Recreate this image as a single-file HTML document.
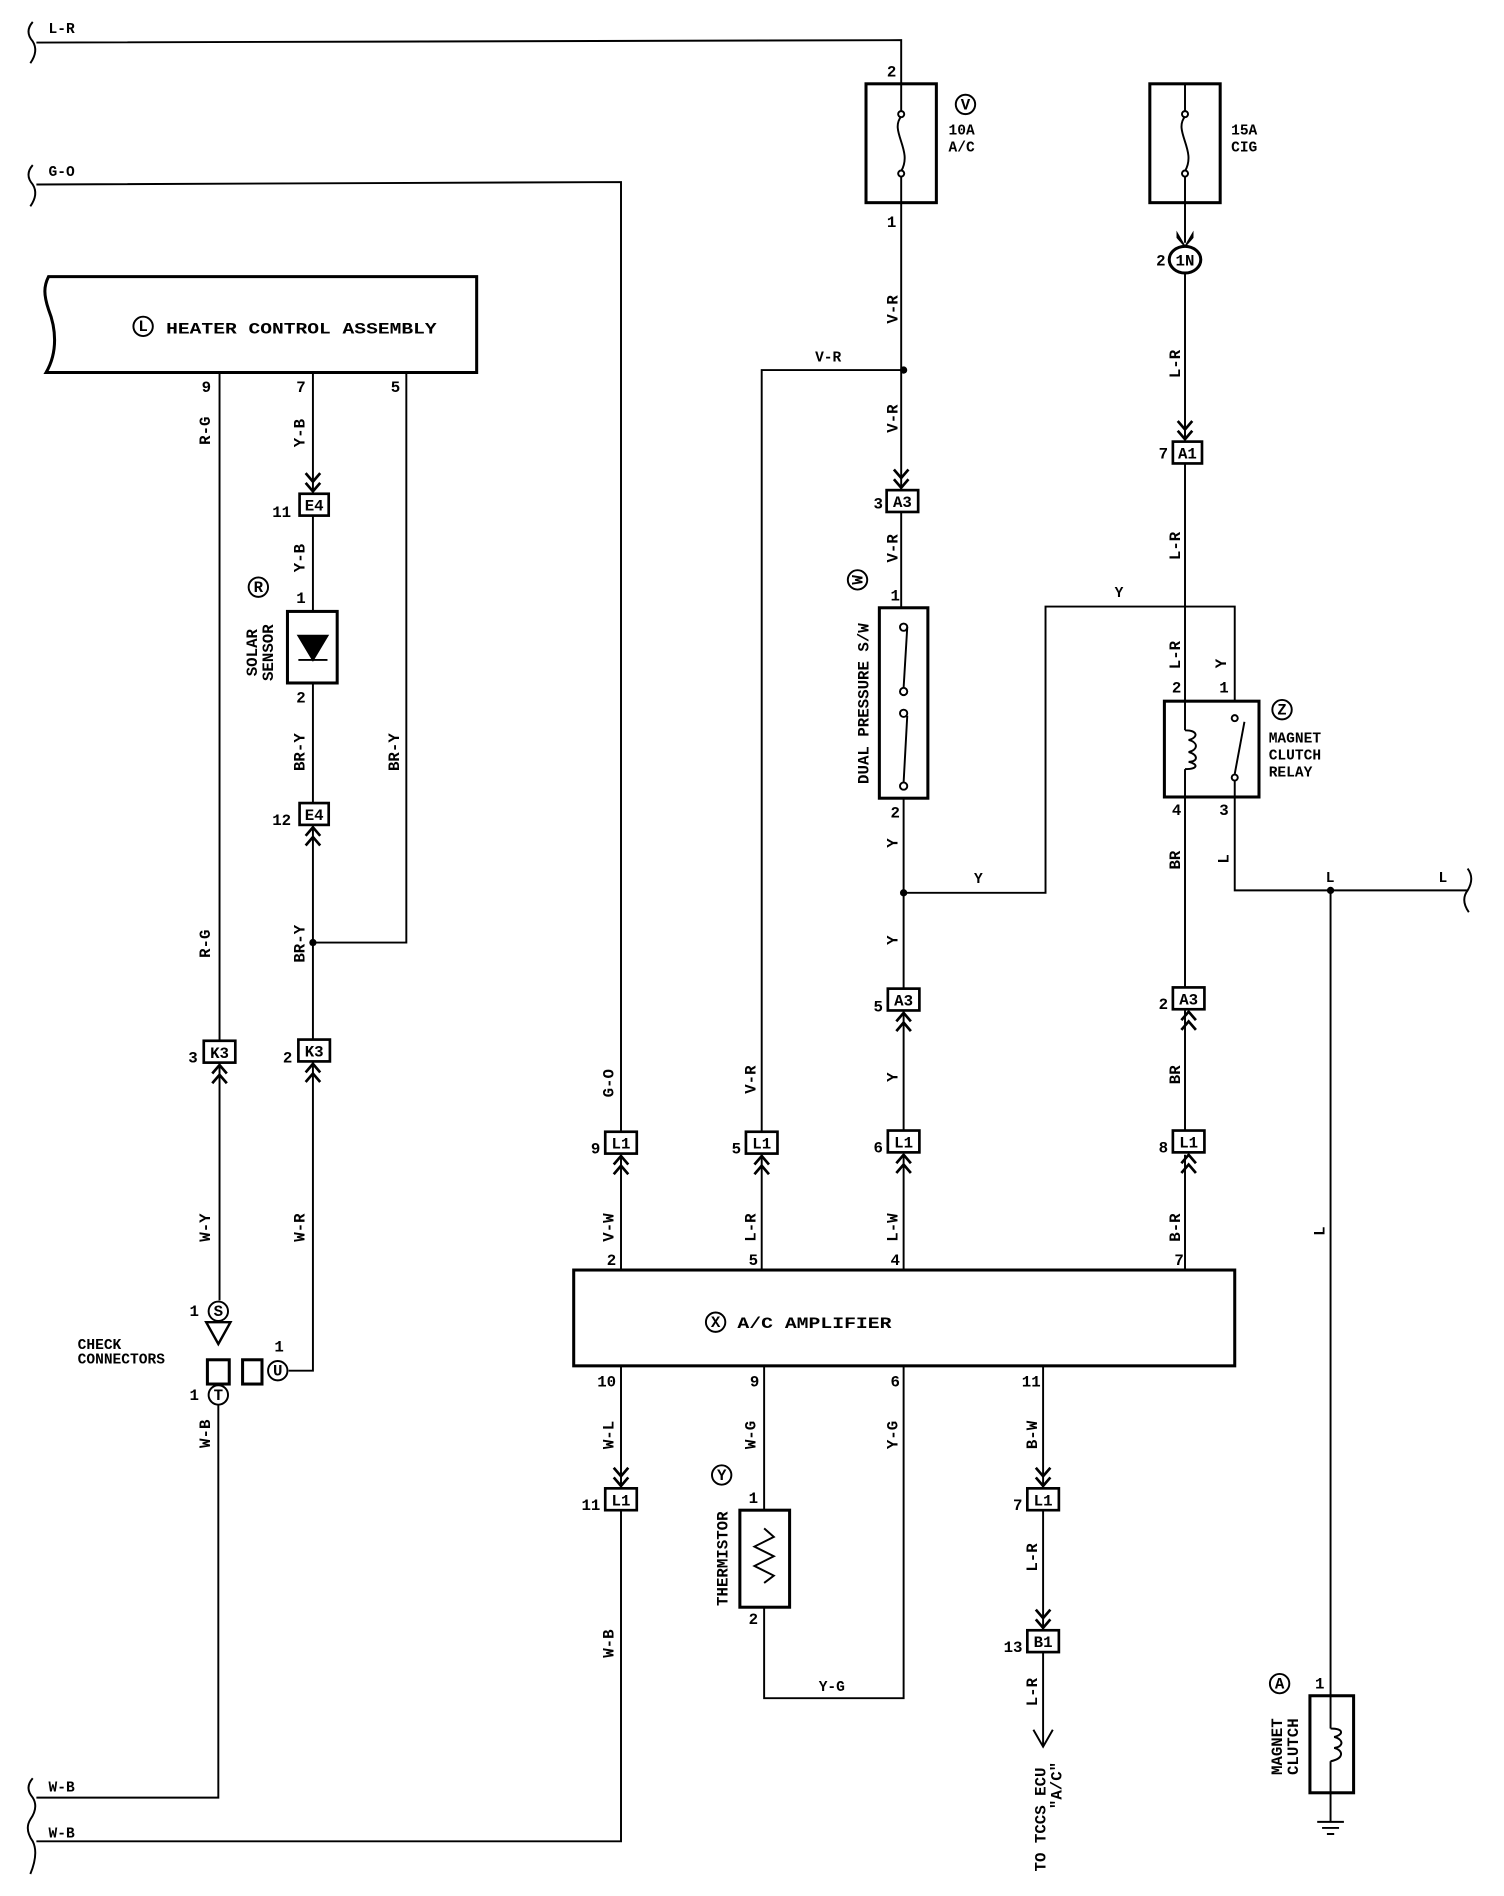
<!DOCTYPE html>
<html><head><meta charset="utf-8"><style>
html,body{margin:0;padding:0;background:#fff}
svg{display:block}
text{font-family:"Liberation Mono","DejaVu Sans Mono",monospace;font-size:13px;font-weight:bold;fill:#000}
.s{font-size:12px}
</style></head><body>
<svg width="1504" height="1896" viewBox="0 0 1240 1563" xmlns="http://www.w3.org/2000/svg">
<defs>
<path id="au" d="M-6,8 L0,1 L6,8 M-6,16 L0,9 L6,16" fill="none" stroke="#000" stroke-width="2.2"/>
<path id="ad" d="M-6,-8 L0,-1 L6,-8 M-6,-16 L0,-9 L6,-16" fill="none" stroke="#000" stroke-width="2.2"/>
</defs>
<g fill="none" stroke="#000" stroke-width="1.6">
<path d="M27,18 Q20,26 27,34 Q32,42 25,52"/>
<path d="M27,136 Q20,144 27,152 Q32,160 25,170"/>
<path d="M27,1466 Q20,1474 27,1482 Q32,1490 25,1500 Q20,1508 27,1518 Q32,1528 25,1545"/>
<path d="M1210,716 Q1216,724 1210,734 Q1204,742 1211,752"/>
<polyline points="30,35 743,33 743,68"/>
<polyline points="30,152 512,150 512,932"/>
<line x1="512" y1="952" x2="512" y2="1047"/>
<rect x="714" y="69" width="58" height="98" stroke-width="2.5"/>
<path d="M743,68 V92 M743,145 V168 M743,96 C733,108 753,124 743,141"/>
<circle cx="743" cy="94" r="2.5"/><circle cx="743" cy="143" r="2.5"/>
<line x1="743" y1="168" x2="743" y2="404"/>
<line x1="743" y1="422" x2="743" y2="501"/>
<polyline points="743,305 628,305 628,932"/>
<line x1="628" y1="952" x2="628" y2="1047"/>
<rect x="725" y="501" width="40" height="157" stroke-width="2.5"/>
<circle cx="745" cy="517" r="3"/><circle cx="745" cy="570" r="3"/><circle cx="745" cy="588" r="3"/><circle cx="745" cy="648" r="3"/>
<path d="M748,517 L745,567 M748,590 L745,645 M745,658 V815 M745,834 V932 M745,952 V1047"/>
<polyline points="745,736 862,736 862,500 1018,500 1018,578"/>
<rect x="948" y="69" width="58" height="98" stroke-width="2.5"/>
<path d="M977,68 V92 M977,145 V200 M977,96 C967,108 987,124 977,141"/>
<circle cx="977" cy="94" r="2.5"/><circle cx="977" cy="143" r="2.5"/>
<ellipse cx="977" cy="214" rx="13" ry="11" stroke-width="2.5"/>
<path d="M977,225 V364 M977,382 V578"/>
<rect x="960" y="578" width="78" height="79" stroke-width="2.5"/>
<path d="M977,578 V602 M977,634 V657 M977,602 C988,602 988,608 980,610 C988,612 988,618 980,620 C988,622 988,628 980,628 C988,630 988,634 977,634"/>
<circle cx="1018" cy="592" r="2.5"/><circle cx="1018" cy="641" r="2.5"/>
<path d="M1018,638 L1026,595 M1018,644 V734 H1210"/>
<path d="M977,657 V814 M977,832 V932 M977,952 V1047"/>
<line x1="1097" y1="734" x2="1097" y2="1398"/>
<rect x="1080" y="1398" width="36" height="80" stroke-width="2.5"/>
<path d="M1097,1398 V1425 M1097,1452 V1478 M1097,1425 C1108,1425 1108,1430 1100,1432 C1108,1434 1108,1440 1100,1441 C1108,1443 1108,1450 1097,1452"/>
<path d="M1097,1478 V1502 M1086,1502 H1108 M1090,1507 H1104 M1094,1512 H1100"/>
<path d="M40,228 H393 V307 H38 C48,290 46,270 40,255 C36,243 36,236 40,228 Z" stroke-width="2.5"/>
<line x1="181" y1="307" x2="181" y2="858"/>
<line x1="181" y1="876" x2="181" y2="1072"/>
<line x1="258" y1="307" x2="258" y2="407"/>
<line x1="258" y1="425" x2="258" y2="504"/>
<line x1="258" y1="563" x2="258" y2="662"/>
<line x1="258" y1="680" x2="258" y2="857"/>
<polyline points="258,875 258,1130 238,1130"/>
<polyline points="335,307 335,777 258,777"/>
<rect x="237" y="504" width="41" height="59" stroke-width="2.5"/>
<path d="M246,544 H270"/>
<path d="M246,524 H270 L258,544 Z" fill="#000"/>
<circle cx="180" cy="1081" r="8"/>
<path d="M170,1090 H190 L180,1108 Z" stroke-width="2"/>
<rect x="171" y="1121" width="18" height="20" stroke-width="2.5"/>
<circle cx="180" cy="1150" r="8"/>
<polyline points="180,1158 180,1482 30,1482"/>
<rect x="200" y="1121" width="16" height="20" stroke-width="2.5"/>
<circle cx="229" cy="1130" r="8"/>
<rect x="473" y="1047" width="545" height="79" stroke-width="2.5"/>
<path d="M512,1126 V1227 M512,1245 V1518 H30"/>
<path d="M630,1126 V1245 M630,1325 V1400 H745 V1126"/>
<rect x="610" y="1245" width="41" height="80" stroke-width="2.5"/>
<path d="M630,1260 L638,1267 L622,1275 L638,1283 L622,1291 L638,1299 L630,1305"/>
<path d="M860,1126 V1227 M860,1245 V1344 M860,1362 V1440 M852,1426 L860,1440 L868,1426"/>
<circle cx="118" cy="269" r="8"/>
<circle cx="796" cy="86" r="8"/>
<circle cx="213" cy="484" r="8"/>
<circle cx="707" cy="478" r="8"/>
<circle cx="1057" cy="585" r="8"/>
<circle cx="590" cy="1090" r="8"/>
<circle cx="595" cy="1216" r="8"/>
<circle cx="1055" cy="1388" r="8"/>
</g>
<circle cx="745" cy="305" r="3"/><circle cx="745" cy="736" r="3"/><circle cx="258" cy="777" r="3"/><circle cx="1097" cy="734" r="3"/>
<path d="M970,190 L977,202 L984,190 L984,196 L977,204 L970,196 Z" fill="#000"/>
<g fill="#fff" stroke="#000" stroke-width="2.2">
<rect x="731" y="404" width="26" height="18"/><rect x="967" y="364" width="24" height="18"/>
<rect x="247" y="407" width="24" height="18"/><rect x="247" y="662" width="24" height="18"/>
<rect x="168" y="858" width="26" height="18"/><rect x="246" y="857" width="26" height="18"/>
<rect x="732" y="815" width="26" height="18"/><rect x="967" y="814" width="26" height="18"/>
<rect x="499" y="933" width="26" height="18"/><rect x="615" y="933" width="26" height="18"/><rect x="732" y="932" width="26" height="18"/><rect x="967" y="932" width="26" height="18"/>
<rect x="499" y="1227" width="26" height="18"/><rect x="847" y="1227" width="26" height="18"/><rect x="847" y="1344" width="26" height="18"/>
</g>
<use href="#ad" x="743" y="403"/><use href="#ad" x="977" y="363"/><use href="#ad" x="258" y="406"/>
<use href="#au" x="258" y="681"/><use href="#au" x="181" y="877"/><use href="#au" x="258" y="876"/>
<use href="#au" x="745" y="834"/><use href="#au" x="980" y="833"/>
<use href="#au" x="512" y="952"/><use href="#au" x="628" y="952"/><use href="#au" x="745" y="951"/><use href="#au" x="980" y="951"/>
<use href="#ad" x="512" y="1226"/><use href="#ad" x="860" y="1226"/><use href="#ad" x="860" y="1343"/>
<g class="s" text-anchor="middle">
<text x="744" y="418">A3</text><text x="979" y="378">A1</text><text x="259" y="421">E4</text><text x="259" y="676">E4</text>
<text x="181" y="872">K3</text><text x="259" y="871">K3</text><text x="745" y="829">A3</text><text x="980" y="828">A3</text>
<text x="512" y="947">L1</text><text x="628" y="947">L1</text><text x="745" y="946">L1</text><text x="980" y="946">L1</text>
<text x="512" y="1241">L1</text><text x="860" y="1241">L1</text><text x="860" y="1358">B1</text>
<text x="977" y="219">1N</text>
<text x="118" y="273" font-size="11">L</text><text x="796" y="90" font-size="11">V</text><text x="213" y="488" font-size="11">R</text>
<text x="1057" y="589" font-size="11">Z</text><text x="590" y="1094" font-size="11">X</text><text x="595" y="1220" font-size="11">Y</text>
<text x="1055" y="1392" font-size="11">A</text><text x="180" y="1085" font-size="10">S</text><text x="180" y="1154" font-size="10">T</text><text x="229" y="1134" font-size="10">U</text>
<text x="707" y="482" font-size="11" transform="rotate(-90 707 478)">W</text>
</g>
<g class="s" text-anchor="end">
<text x="739" y="63">2</text><text x="739" y="187">1</text><text x="961" y="219">2</text>
<text x="728" y="419">3</text><text x="963" y="378">7</text><text x="240" y="426">11</text><text x="240" y="680">12</text>
<text x="163" y="876">3</text><text x="241" y="876">2</text><text x="728" y="834">5</text><text x="963" y="832">2</text>
<text x="495" y="951">9</text><text x="611" y="951">5</text><text x="728" y="950">6</text><text x="963" y="950">8</text>
<text x="495" y="1245">11</text><text x="843" y="1245">7</text><text x="843" y="1362">13</text>
<text x="174" y="323">9</text><text x="252" y="323">7</text><text x="330" y="323">5</text>
<text x="252" y="497">1</text><text x="252" y="579">2</text>
<text x="742" y="495">1</text><text x="742" y="674">2</text>
<text x="974" y="571">2</text><text x="1013" y="571">1</text><text x="974" y="672">4</text><text x="1013" y="672">3</text>
<text x="508" y="1043">2</text><text x="625" y="1043">5</text><text x="742" y="1043">4</text><text x="976" y="1043">7</text>
<text x="508" y="1143">10</text><text x="626" y="1143">9</text><text x="742" y="1143">6</text><text x="858" y="1143">11</text>
<text x="625" y="1239">1</text><text x="625" y="1339">2</text>
<text x="164" y="1085">1</text><text x="164" y="1154">1</text><text x="234" y="1114">1</text><text x="1092" y="1392">1</text>
</g>
<text x="40" y="27" class="s">L-R</text><text x="40" y="145" class="s">G-O</text>
<text x="40" y="1477" class="s">W-B</text><text x="40" y="1515" class="s">W-B</text>
<text x="672" y="298" class="s">V-R</text><text x="803" y="728" class="s">Y</text><text x="919" y="492" class="s">Y</text>
<text x="1093" y="727" class="s">L</text><text x="1186" y="727" class="s">L</text><text x="675" y="1394" class="s">Y-G</text>
<text x="137" y="275" textLength="223" lengthAdjust="spacingAndGlyphs">HEATER CONTROL ASSEMBLY</text>
<text x="608" y="1095" textLength="127" lengthAdjust="spacingAndGlyphs">A/C AMPLIFIER</text>
<text x="782" y="111" class="s">10A</text><text x="782" y="125" class="s">A/C</text>
<text x="1015" y="111" class="s">15A</text><text x="1015" y="125" class="s">CIG</text>
<text x="1046" y="612" class="s">MAGNET</text><text x="1046" y="626" class="s">CLUTCH</text><text x="1046" y="640" class="s">RELAY</text>
<text x="64" y="1112" class="s">CHECK</text><text x="64" y="1124" class="s">CONNECTORS</text>
<g class="s" text-anchor="middle">
<text transform="translate(740,255) rotate(-90)">V-R</text>
<text transform="translate(740,345) rotate(-90)">V-R</text>
<text transform="translate(740,452) rotate(-90)">V-R</text>
<text transform="translate(740,695) rotate(-90)">Y</text>
<text transform="translate(740,775) rotate(-90)">Y</text>
<text transform="translate(740,888) rotate(-90)">Y</text>
<text transform="translate(1011,547) rotate(-90)">Y</text>
<text transform="translate(973,300) rotate(-90)">L-R</text>
<text transform="translate(973,450) rotate(-90)">L-R</text>
<text transform="translate(973,540) rotate(-90)">L-R</text>
<text transform="translate(973,709) rotate(-90)">BR</text>
<text transform="translate(973,886) rotate(-90)">BR</text>
<text transform="translate(1013,708) rotate(-90)">L</text>
<text transform="translate(1092,1015) rotate(-90)">L</text>
<text transform="translate(973,1012) rotate(-90)">B-R</text>
<text transform="translate(506,893) rotate(-90)">G-O</text>
<text transform="translate(623,890) rotate(-90)">V-R</text>
<text transform="translate(506,1012) rotate(-90)">V-W</text>
<text transform="translate(623,1012) rotate(-90)">L-R</text>
<text transform="translate(740,1012) rotate(-90)">L-W</text>
<text transform="translate(506,1183) rotate(-90)">W-L</text>
<text transform="translate(623,1183) rotate(-90)">W-G</text>
<text transform="translate(740,1183) rotate(-90)">Y-G</text>
<text transform="translate(855,1183) rotate(-90)">B-W</text>
<text transform="translate(855,1284) rotate(-90)">L-R</text>
<text transform="translate(855,1395) rotate(-90)">L-R</text>
<text transform="translate(506,1355) rotate(-90)">W-B</text>
<text transform="translate(173,355) rotate(-90)">R-G</text>
<text transform="translate(251,357) rotate(-90)">Y-B</text>
<text transform="translate(251,460) rotate(-90)">Y-B</text>
<text transform="translate(251,620) rotate(-90)">BR-Y</text>
<text transform="translate(329,620) rotate(-90)">BR-Y</text>
<text transform="translate(251,778) rotate(-90)">BR-Y</text>
<text transform="translate(173,778) rotate(-90)">R-G</text>
<text transform="translate(173,1012) rotate(-90)">W-Y</text>
<text transform="translate(251,1012) rotate(-90)">W-R</text>
<text transform="translate(173,1182) rotate(-90)">W-B</text>
<text transform="translate(716,580) rotate(-90)">DUAL PRESSURE S/W</text>
<text transform="translate(600,1285) rotate(-90)">THERMISTOR</text>
<text transform="translate(212,538) rotate(-90)">SOLAR</text>
<text transform="translate(225,538) rotate(-90)">SENSOR</text>
<text transform="translate(1057,1440) rotate(-90)">MAGNET</text>
<text transform="translate(1070,1440) rotate(-90)">CLUTCH</text>
<text transform="translate(862,1500) rotate(-90)">TO TCCS ECU</text>
<text transform="translate(875,1472) rotate(-90)">"A/C"</text>
</g>
</svg>
</body></html>
